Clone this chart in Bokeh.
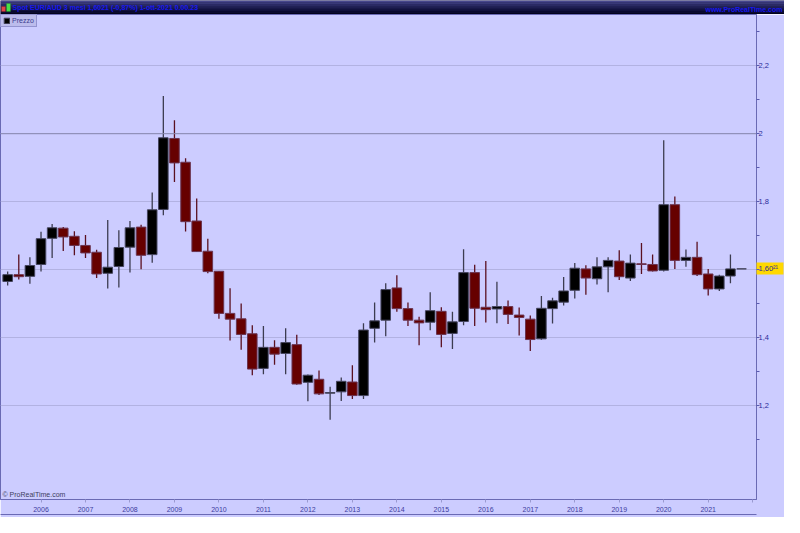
from bokeh.plotting import figure
from bokeh.layouts import column
from bokeh.models import (Range1d, FixedTicker, CustomJSTickFormatter, Span, BoxAnnotation,
                          Label, Legend, LegendItem, ColumnDataSource, LinearAxis, Grid)
from bokeh.embed import file_html
from bokeh.resources import INLINE

# ---------------- data (quarterly EUR/AUD candles) ----------------
periods = ["2005Q2", "2005Q3", "2005Q4",
           "2006Q1", "2006Q2", "2006Q3", "2006Q4",
           "2007Q1", "2007Q2", "2007Q3", "2007Q4",
           "2008Q1", "2008Q2", "2008Q3", "2008Q4",
           "2009Q1", "2009Q2", "2009Q3", "2009Q4",
           "2010Q1", "2010Q2", "2010Q3", "2010Q4",
           "2011Q1", "2011Q2", "2011Q3", "2011Q4",
           "2012Q1", "2012Q2", "2012Q3", "2012Q4",
           "2013Q1", "2013Q2", "2013Q3", "2013Q4",
           "2014Q1", "2014Q2", "2014Q3", "2014Q4",
           "2015Q1", "2015Q2", "2015Q3", "2015Q4",
           "2016Q1", "2016Q2", "2016Q3", "2016Q4",
           "2017Q1", "2017Q2", "2017Q3", "2017Q4",
           "2018Q1", "2018Q2", "2018Q3", "2018Q4",
           "2019Q1", "2019Q2", "2019Q3", "2019Q4",
           "2020Q1", "2020Q2", "2020Q3", "2020Q4",
           "2021Q1", "2021Q2", "2021Q3", "2021Q4"]

open_ = [1.565, 1.585, 1.580,
         1.615, 1.692, 1.722, 1.698,
         1.671, 1.651, 1.589, 1.609,
         1.666, 1.725, 1.644, 1.777,
         1.986, 1.916, 1.743, 1.654,
         1.595, 1.471, 1.455, 1.411,
         1.309, 1.371, 1.353, 1.379,
         1.268, 1.277, 1.236, 1.240,
         1.269, 1.229, 1.427, 1.451,
         1.546, 1.485, 1.451, 1.445,
         1.477, 1.412, 1.447, 1.591,
         1.489, 1.484, 1.491, 1.466,
         1.454, 1.396, 1.485, 1.504,
         1.539, 1.602, 1.573, 1.608,
         1.625, 1.575, 1.617, 1.615,
         1.598, 1.791, 1.627, 1.636,
         1.587, 1.543, 1.581, 1.6021]

high = [1.594, 1.644, 1.636,
        1.711, 1.734, 1.725, 1.713,
        1.702, 1.658, 1.746, 1.716,
        1.743, 1.732, 1.827, 2.111,
        2.040, 1.928, 1.809, 1.691,
        1.596, 1.545, 1.500, 1.436,
        1.434, 1.392, 1.427, 1.408,
        1.291, 1.303, 1.255, 1.282,
        1.318, 1.442, 1.503, 1.560,
        1.583, 1.503, 1.461, 1.533,
        1.489, 1.476, 1.660, 1.614,
        1.625, 1.564, 1.509, 1.488,
        1.465, 1.522, 1.517, 1.578,
        1.619, 1.613, 1.636, 1.636,
        1.657, 1.644, 1.678, 1.644,
        1.981, 1.815, 1.659, 1.682,
        1.602, 1.585, 1.644, 1.6021]

low = [1.553, 1.571, 1.558,
       1.594, 1.634, 1.655, 1.642,
       1.634, 1.575, 1.544, 1.547,
       1.591, 1.601, 1.620, 1.760,
       1.858, 1.712, 1.652, 1.589,
       1.455, 1.391, 1.364, 1.289,
       1.292, 1.320, 1.292, 1.261,
       1.212, 1.231, 1.158, 1.213,
       1.219, 1.219, 1.385, 1.404,
       1.476, 1.434, 1.377, 1.421,
       1.371, 1.366, 1.436, 1.434,
       1.444, 1.442, 1.440, 1.406,
       1.360, 1.393, 1.441, 1.494,
       1.515, 1.526, 1.556, 1.533,
       1.569, 1.566, 1.587, 1.594,
       1.594, 1.602, 1.608, 1.581,
       1.524, 1.537, 1.560, 1.6021]

close = [1.585, 1.579, 1.612,
         1.691, 1.723, 1.696, 1.671,
         1.649, 1.587, 1.607, 1.665,
         1.723, 1.642, 1.776, 1.988,
         1.914, 1.741, 1.653, 1.594,
         1.471, 1.454, 1.409, 1.307,
         1.371, 1.351, 1.385, 1.263,
         1.289, 1.234, 1.238, 1.271,
         1.229, 1.422, 1.449, 1.541,
         1.485, 1.451, 1.443, 1.479,
         1.409, 1.446, 1.591, 1.486,
         1.482, 1.491, 1.468, 1.459,
         1.394, 1.486, 1.508, 1.537,
         1.604, 1.575, 1.608, 1.627,
         1.579, 1.619, 1.615, 1.596,
         1.791, 1.627, 1.636, 1.585,
         1.543, 1.581, 1.602, 1.6021]

year_ticks = list(range(2006, 2023))
price_ticks = [1.2, 1.4, 1.6, 1.8, 2.0, 2.2]
price_minor = [1.1, 1.2, 1.3, 1.4, 1.5, 1.6, 1.7, 1.8, 1.9, 2.0, 2.1, 2.2, 2.3]
hline_level = 2.0
last_price = 1.6021
title_text = "Spot EUR/AUD 3 mesi 1,6021 (-0,87%) 1-ott-2021 0.00.23"
site_text = "www.ProRealTime.com"

# ---------------- build sources ----------------
xs = [int(p[:4]) + (int(p[5]) - 1) / 4 for p in periods]
up = dict(x=[], top=[], bottom=[], high=[], low=[])
dn = dict(x=[], top=[], bottom=[], high=[], low=[])
for x, o, h, l, c in zip(xs, open_, high, low, close):
    d = up if c >= o else dn
    d["x"].append(x)
    d["top"].append(max(o, c))
    d["bottom"].append(min(o, c))
    d["high"].append(h)
    d["low"].append(l)
src_up = ColumnDataSource(up)
src_dn = ColumnDataSource(dn)

BG = "#ccccff"
FONT = "Liberation Sans"
AXC = "#6a6ab4"
TOTAL_W = 784
HDR_H = 14
FW, FH = 756, 485
RIGHT_W = TOTAL_W - FW
BOX_LEN = 27

# ---------------- header bar (separate small figure) ----------------
hdr = figure(width=TOTAL_W, height=HDR_H, x_range=Range1d(0, TOTAL_W), y_range=Range1d(0, HDR_H),
             output_backend="svg", toolbar_location=None, x_axis_location=None, y_axis_location=None,
             min_border=0)
if hasattr(hdr, "frame_align"):
    hdr.frame_align = False
hdr.outline_line_color = None
hdr.grid.visible = False
hdr.background_fill_color = "#1e1e52"
hdr.border_fill_color = "#1e1e52"
bands = ["#46468c", "#383878", "#2a2a64", "#1e1e52", "#121240", "#08082e", "#02021e"]
for k, col in enumerate(bands):
    hdr.add_layout(BoxAnnotation(left=0, right=TOTAL_W, bottom=HDR_H - 2 * (k + 1), top=HDR_H - 2 * k,
                                 fill_color=col, fill_alpha=1, line_color=None))
hdr.add_layout(BoxAnnotation(left=1, right=5, bottom=3, top=8, fill_color="#e04848", fill_alpha=1,
                             line_color="#902020"))
hdr.add_layout(BoxAnnotation(left=6, right=10, bottom=3, top=11, fill_color="#48e048", fill_alpha=1,
                             line_color="#209020"))
hdr.add_layout(Label(x=12, y=7, text=title_text, text_font=FONT, text_font_size="7px",
                     text_font_style="bold", text_color="#1818ee", text_baseline="middle"))
hdr.add_layout(Label(x=TOTAL_W - 2, y=5, text=site_text, text_font=FONT, text_font_size="7px",
                     text_font_style="bold", text_color="#1818ee", text_baseline="middle",
                     text_align="right"))

# ---------------- main chart ----------------
p = figure(frame_width=FW, frame_height=FH, output_backend="svg", toolbar_location=None,
           x_range=Range1d(2005.089, 2022.086), y_range=Range1d(0.923, 2.351),
           y_axis_location=None,
           min_border_left=0, min_border_right=RIGHT_W, min_border_top=0, min_border_bottom=18)
if hasattr(p, "frame_align"):
    p.frame_align = False
p.background_fill_color = BG
p.border_fill_color = BG
p.outline_line_color = AXC
p.outline_line_width = 1

p.xgrid.grid_line_color = None
for g in p.ygrid:
    g.visible = False
p.add_layout(Grid(dimension=1, ticker=FixedTicker(ticks=price_ticks), grid_line_color="#b2b2e2",
                  grid_line_width=1))

xa = p.xaxis[0]
xa.ticker = FixedTicker(ticks=year_ticks)
xa.major_label_overrides = {y: (str(y) if y < 2022 else "") for y in year_ticks}
xa.axis_line_color = AXC
xa.major_tick_line_color = "#9a9ad0"
xa.major_tick_out = 3
xa.major_tick_in = 0
xa.minor_tick_line_color = None
xa.major_label_text_font = FONT
xa.major_label_text_font_size = "7px"
xa.major_label_text_color = "#3c3ca0"
xa.major_label_standoff = 4

# bottom border rule of the chart
ax_border = LinearAxis(ticker=FixedTicker(ticks=[]), axis_line_color=AXC, major_tick_line_color=None,
                       minor_tick_line_color=None, major_label_text_font_size="0px",
                       major_tick_out=0, major_tick_in=0, major_label_standoff=0)
p.add_layout(ax_border, "below")

# price axis part 1 (next to the frame): rule, small ticks, and the yellow last-price box
ax_box = LinearAxis(ticker=FixedTicker(ticks=[last_price], minor_ticks=price_minor),
                    formatter=CustomJSTickFormatter(code="return '';"),
                    axis_line_color=AXC, major_tick_line_color="#ffd800",
                    major_tick_line_width=12, major_tick_out=BOX_LEN, major_tick_in=0,
                    minor_tick_line_color="#5a5ab0", minor_tick_out=3, minor_tick_in=0,
                    major_label_standoff=0, major_label_text_font_size="7px")
# price axis part 2: the labels, pulled back next to the rule
label_ticks = [t for t in price_ticks if abs(t - last_price) > 0.01] + [last_price]
ax_lab = LinearAxis(ticker=FixedTicker(ticks=label_ticks, minor_ticks=[]),
                    formatter=CustomJSTickFormatter(args=dict(last=last_price), code="""
if (Math.abs(tick - last) < 1e-9) {
  const s = tick.toFixed(4).replace('.', ',');
  const sup = {'0':'\u2070','1':'\u00b9','2':'\u00b2','3':'\u00b3','4':'\u2074','5':'\u2075',
               '6':'\u2076','7':'\u2077','8':'\u2078','9':'\u2079'};
  return s.slice(0, 4) + sup[s[4]] + sup[s[5]];
}
return tick.toFixed(1).replace('.0', '').replace('.', ',');
"""),
                    axis_line_color=None, major_tick_line_color=None, minor_tick_line_color=None,
                    major_tick_out=0, major_tick_in=0,
                    major_label_standoff=-(BOX_LEN - 2),
                    major_label_text_font=FONT, major_label_text_font_size="7.5px",
                    major_label_text_color="#2a2a9a")
p.add_layout(ax_box, "right")
p.add_layout(ax_lab, "right")

p.add_layout(Span(location=hline_level, dimension="width", line_color="#8a8ab0", line_width=1))

W = 0.215
p.segment(x0="x", y0="low", x1="x", y1="high", source=src_up, line_color="#3c3c50", line_width=1.3)
p.segment(x0="x", y0="low", x1="x", y1="high", source=src_dn, line_color="#5a1020", line_width=1.3)
r_up = p.vbar(x="x", width=W, top="top", bottom="bottom", source=src_up,
              fill_color="#000000", line_color="#46465e", line_width=1)
r_dn = p.vbar(x="x", width=W, top="top", bottom="bottom", source=src_dn,
              fill_color="#660000", line_color="#6a3450", line_width=1)

legend = Legend(items=[LegendItem(label="Prezzo", renderers=[r_up])], location="top_left",
                margin=0, padding=2, spacing=0, label_text_font=FONT, label_text_font_size="7px",
                label_text_color="#3c3c90", glyph_width=7, glyph_height=7, label_standoff=2,
                label_height=7, background_fill_color="#bcbcec", background_fill_alpha=1,
                border_line_color=AXC)
p.add_layout(legend)

p.add_layout(Label(x=2, y=2, x_units="screen", y_units="screen", text="\u00a9 ProRealTime.com",
                   text_font=FONT, text_font_size="7px", text_color="#404060"))

open("out.html", "w").write(file_html(column(hdr, p, spacing=0), INLINE))
